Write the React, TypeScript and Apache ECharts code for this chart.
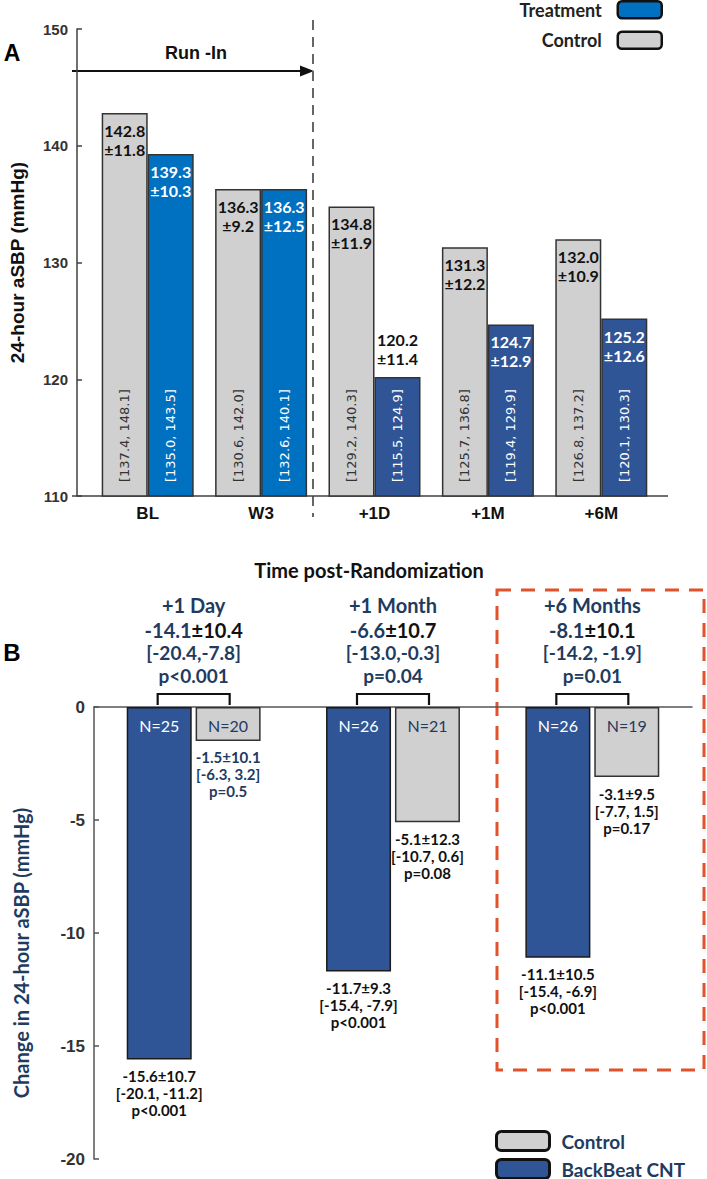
import React, { useEffect, useRef } from "react";
import * as echarts from "echarts";

// ---------- Panel A data ----------
const categoriesA = ["BL", "W3", "+1D", "+1M", "+6M"];
const controlMeanA = [142.8, 136.3, 134.8, 131.3, 132.0];
const controlSdA = [11.8, 9.2, 11.9, 12.2, 10.9];
const controlCiA = ["[137.4, 148.1]", "[130.6, 142.0]", "[129.2, 140.3]", "[125.7, 136.8]", "[126.8, 137.2]"];
const treatMeanA = [139.3, 136.3, 120.2, 124.7, 125.2];
const treatSdA = [10.3, 12.5, 11.4, 12.9, 12.6];
const treatCiA = ["[135.0, 143.5]", "[132.6, 140.1]", "[115.5, 124.9]", "[119.4, 129.9]", "[120.1, 130.3]"];
const runInA = [true, true, false, false, false];
const labelAboveA = [false, false, true, false, false];
const yTicksA = { min: 110, max: 150, interval: 10 };

// ---------- Panel B data ----------
const categoriesB = ["+1 Day", "+1 Month", "+6 Months"];
const cntChange = [-15.6, -11.7, -11.1];
const cntSd = [10.7, 9.3, 10.5];
const cntCi = ["[-20.1, -11.2]", "[-15.4, -7.9]", "[-15.4, -6.9]"];
const cntP = ["p<0.001", "p<0.001", "p<0.001"];
const cntN = [25, 26, 26];
const ctrlChange = [-1.5, -5.1, -3.1];
const ctrlSd = [10.1, 12.3, 9.5];
const ctrlCi = ["[-6.3, 3.2]", "[-10.7, 0.6]", "[-7.7, 1.5]"];
const ctrlP = ["p=0.5", "p=0.08", "p=0.17"];
const ctrlN = [20, 21, 19];
const ctrlNavyStats = [true, false, false];
const diffMean = [-14.1, -6.6, -8.1];
const diffSd = [10.4, 10.7, 10.1];
const diffCi = ["[-20.4,-7.8]", "[-13.0,-0.3]", "[-14.2, -1.9]"];
const diffP = ["p<0.001", "p=0.04", "p=0.01"];
const yTicksB = { min: -20, max: 0, interval: 5 };

const NAVY = "#1F3B60";
const GRAY = "#D0D0D0";
const BLUE_A = "#0070C0";
const BLUE_B = "#2F5597";
const ARIAL = "Liberation Sans";
const CAL = "Lato";

export default function App() {
  const ref = useRef<HTMLDivElement>(null);
  useEffect(() => {
    document.body.style.margin = "0";
    const chart = echarts.init(ref.current!, null, { renderer: "svg" });

    const hdr = (text: string, x: number, y: number, fill: string, size: number) => ({
      type: "text",
      style: {
        text, x, y, align: "center", verticalAlign: "middle", fill,
        fontFamily: CAL, fontWeight: "bold", fontSize: size, lineHeight: 18,
      },
    });

    const option: any = {
      animation: false,
      backgroundColor: "#fff",
      legend: [
        {
          data: ["Treatment", "Control"],
          orient: "vertical",
          right: 44,
          top: 0,
          padding: 0,
          align: "right",
          icon: "roundRect",
          itemWidth: 44,
          itemHeight: 17,
          itemGap: 11,
          selectedMode: false,
          itemStyle: { borderColor: "#111", borderWidth: 2.5 },
          textStyle: { fontFamily: CAL, fontWeight: "bold", fontSize: 18, color: "#222", padding: [0, 11, 0, 0] },
        },
        {
          data: ["Control", "BackBeat CNT"],
          orient: "vertical",
          left: 495,
          top: 1130,
          height: 60,
          padding: 0,
          align: "left",
          icon: "roundRect",
          itemWidth: 53,
          itemHeight: 19,
          itemGap: 6,
          selectedMode: false,
          itemStyle: { borderColor: "#111", borderWidth: 3 },
          textStyle: { fontFamily: CAL, fontWeight: "bold", fontSize: 19, lineHeight: 19, color: NAVY, padding: [0, 0, 0, 7] },
        },
      ],
      grid: [
        { left: 86, right: 49, top: 29, bottom: 683 },
        { left: 94, right: 15, top: 707, bottom: 20 },
      ],
      xAxis: [
        {
          gridIndex: 0, type: "category", data: categoriesA,
          axisLine: { show: false }, axisTick: { show: false },
          axisLabel: { fontFamily: ARIAL, fontWeight: "bold", fontSize: 17, color: "#111", margin: 9 },
        },
        { gridIndex: 0, type: "category", data: categoriesA, show: false },
        {
          gridIndex: 1, type: "category", data: categoriesB, position: "top",
          axisLine: { show: true, onZero: false, lineStyle: { color: "#555", width: 1.5 } },
          axisTick: { show: false }, axisLabel: { show: false },
        },
        { gridIndex: 1, type: "category", data: categoriesB, show: false },
      ],
      yAxis: [
        {
          gridIndex: 0, type: "value", ...yTicksA, offset: 14,
          axisLine: { show: true, lineStyle: { color: "#404040", width: 1.5 } },
          axisTick: { show: true, inside: true, length: 5, lineStyle: { color: "#404040", width: 1.5 } },
          axisLabel: { fontFamily: ARIAL, fontWeight: "bold", fontSize: 15, color: "#333", margin: 9 },
          splitLine: { show: false },
          name: "24-hour aSBP (mmHg)", nameLocation: "middle", nameGap: 50, nameRotate: 90,
          nameTextStyle: { fontFamily: ARIAL, fontWeight: "bold", fontSize: 19, color: "#111" },
        },
        {
          gridIndex: 1, type: "value", ...yTicksB,
          axisLine: { show: true, lineStyle: { color: "#555", width: 1.5 } },
          axisTick: { show: true, inside: true, length: 5, lineStyle: { color: "#555", width: 1.5 } },
          axisLabel: { fontFamily: ARIAL, fontWeight: "bold", fontSize: 17, color: "#333", margin: 9 },
          splitLine: { show: false },
        },
      ],
      series: [
        {
          type: "bar", name: "Control", xAxisIndex: 0, yAxisIndex: 0,
          data: controlMeanA, barWidth: 46, barGap: "0%",
          itemStyle: { color: GRAY, borderColor: "#333", borderWidth: 1.5 },
          label: {
            show: true, position: "insideTop", distance: 8,
            formatter: (p: any) => `${controlMeanA[p.dataIndex].toFixed(1)}\n±${controlSdA[p.dataIndex].toFixed(1)}`,
            fontFamily: CAL, fontWeight: "bold", fontSize: 16, lineHeight: 19, color: "#111",
          },
        },
        {
          type: "bar", name: "Treatment", xAxisIndex: 0, yAxisIndex: 0,
          barWidth: 46, barGap: "0%",
          itemStyle: { color: BLUE_A, borderColor: "#333", borderWidth: 1.5 },
          data: treatMeanA.map((v, i) => ({
            value: v,
            itemStyle: { color: runInA[i] ? BLUE_A : BLUE_B },
            label: labelAboveA[i] ? { position: "top", color: "#111", distance: 9 } : {},
          })),
          label: {
            show: true, position: "insideTop", distance: 8,
            formatter: (p: any) => `${treatMeanA[p.dataIndex].toFixed(1)}\n±${treatSdA[p.dataIndex].toFixed(1)}`,
            fontFamily: CAL, fontWeight: "bold", fontSize: 16, lineHeight: 19, color: "#fff",
          },
        },
        {
          type: "bar", name: "ControlCI", xAxisIndex: 1, yAxisIndex: 0, silent: true,
          data: controlMeanA, barWidth: 46, barGap: "0%",
          itemStyle: { color: "rgba(0,0,0,0)" },
          label: {
            show: true, position: "insideBottom", distance: 14, rotate: 90, align: "left", verticalAlign: "middle",
            formatter: (p: any) => controlCiA[p.dataIndex],
            fontFamily: "DejaVu Sans", fontSize: 13, color: "#333",
          },
        },
        {
          type: "bar", name: "TreatmentCI", xAxisIndex: 1, yAxisIndex: 0, silent: true,
          data: treatMeanA, barWidth: 46, barGap: "0%",
          itemStyle: { color: "rgba(0,0,0,0)" },
          label: {
            show: true, position: "insideBottom", distance: 14, rotate: 90, align: "left", verticalAlign: "middle",
            formatter: (p: any) => treatCiA[p.dataIndex],
            fontFamily: "DejaVu Sans", fontSize: 13, color: "#fff",
          },
        },
        // Panel B
        {
          type: "bar", name: "BackBeat CNT", xAxisIndex: 2, yAxisIndex: 1,
          data: cntChange, barWidth: 65, barGap: "6%",
          itemStyle: { color: BLUE_B, borderColor: "#1a1a1a", borderWidth: 1.5 },
          label: {
            show: true, position: "insideTop", distance: 10,
            formatter: (p: any) => `N=${cntN[p.dataIndex]}`,
            fontFamily: CAL, fontSize: 16, color: "#fff",
          },
        },
        {
          type: "bar", name: "Control", xAxisIndex: 2, yAxisIndex: 1,
          data: ctrlChange, barWidth: 65, barGap: "6%",
          itemStyle: { color: GRAY, borderColor: "#333", borderWidth: 1.5 },
          label: {
            show: true, position: "insideTop", distance: 10,
            formatter: (p: any) => `N=${ctrlN[p.dataIndex]}`,
            fontFamily: CAL, fontSize: 16, color: NAVY,
          },
        },
        {
          type: "bar", name: "CNTStats", xAxisIndex: 3, yAxisIndex: 1, silent: true,
          data: cntChange, barWidth: 65, barGap: "6%",
          itemStyle: { color: "rgba(0,0,0,0)" },
          label: {
            show: true, position: "bottom", distance: 8,
            formatter: (p: any) =>
              `${cntChange[p.dataIndex].toFixed(1)}±${cntSd[p.dataIndex].toFixed(1)}\n${cntCi[p.dataIndex]}\n${cntP[p.dataIndex]}`,
            fontFamily: CAL, fontWeight: "bold", fontSize: 15, lineHeight: 17, color: "#111",
          },
        },
        {
          type: "bar", name: "CtrlStats", xAxisIndex: 3, yAxisIndex: 1, silent: true,
          barWidth: 65, barGap: "6%",
          data: ctrlChange.map((v, i) => ({ value: v, label: { color: ctrlNavyStats[i] ? NAVY : "#111" } })),
          itemStyle: { color: "rgba(0,0,0,0)" },
          label: {
            show: true, position: "bottom", distance: 8,
            formatter: (p: any) =>
              `${ctrlChange[p.dataIndex].toFixed(1)}±${ctrlSd[p.dataIndex].toFixed(1)}\n${ctrlCi[p.dataIndex]}\n${ctrlP[p.dataIndex]}`,
            fontFamily: CAL, fontWeight: "bold", fontSize: 15, lineHeight: 17, color: "#111",
          },
        },
        {
          type: "custom", name: "Comparison", xAxisIndex: 2, yAxisIndex: 1, silent: true, clip: false,
          data: categoriesB.map((_, i) => [i, 0]),
          encode: { x: 0, y: 1 },
          renderItem: (_params: any, api: any) => {
            const i = api.value(0);
            const [cx, cy] = api.coord([i, 0]);
            const half = 36;
            return {
              type: "group",
              children: [
                {
                  type: "polyline",
                  shape: { points: [[cx - half, cy - 2], [cx - half, cy - 13], [cx + half, cy - 13], [cx + half, cy - 2]] },
                  style: { stroke: "#111", lineWidth: 2.2, fill: "none" },
                },
                hdr(categoriesB[i], cx, cy - 102, NAVY, 20),
                {
                  type: "text",
                  style: {
                    text: `{a|${diffMean[i].toFixed(1)}}{b|±${diffSd[i].toFixed(1)}}`,
                    x: cx, y: cy - 77, align: "center", verticalAlign: "middle",
                    fontFamily: CAL, fontWeight: "bold", fontSize: 20, lineHeight: 18,
                    rich: {
                      a: { fill: NAVY, fontFamily: CAL, fontWeight: "bold", fontSize: 20, lineHeight: 18 },
                      b: { fill: "#111", fontFamily: CAL, fontWeight: "bold", fontSize: 20, lineHeight: 18 },
                    },
                  },
                },
                hdr(diffCi[i], cx, cy - 55, NAVY, 19),
                hdr(diffP[i], cx, cy - 32, NAVY, 19),
              ],
            };
          },
        },
      ],
      graphic: [
        { type: "text", x: 12, y: 53, style: { text: "A", fontFamily: ARIAL, fontWeight: "bold", fontSize: 23, fill: "#000", align: "center", verticalAlign: "middle" } },
        { type: "text", x: 12, y: 652, style: { text: "B", fontFamily: ARIAL, fontWeight: "bold", fontSize: 24, fill: "#000", align: "center", verticalAlign: "middle" } },
        { type: "text", x: 196, y: 53, style: { text: "Run -In", fontFamily: ARIAL, fontWeight: "bold", fontSize: 18, fill: "#111", align: "center", verticalAlign: "middle" } },
        { type: "line", shape: { x1: 72, y1: 71, x2: 306, y2: 71 }, style: { stroke: "#111", lineWidth: 2 } },
        { type: "polygon", shape: { points: [[300, 65.5], [314, 71], [300, 76.5]] }, style: { fill: "#111" } },
        { type: "line", shape: { x1: 313, y1: 20, x2: 313, y2: 517 }, style: { stroke: "#666", lineWidth: 2, lineDash: [10, 7] } },
        { type: "line", shape: { x1: 72, y1: 496, x2: 668, y2: 496 }, style: { stroke: "#404040", lineWidth: 1.5 } },
        { type: "text", x: 369, y: 570, style: { text: "Time post-Randomization", fontFamily: CAL, fontWeight: "bold", fontSize: 20, fill: "#111", align: "center", verticalAlign: "middle" } },
        {
          type: "text", x: 21, y: 953, rotation: Math.PI / 2,
          style: { text: "Change in 24-hour aSBP (mmHg)", fontFamily: CAL, fontWeight: "bold", fontSize: 20, fill: NAVY, align: "center", verticalAlign: "middle" },
        },
        {
          type: "rect", shape: { x: 497, y: 590, width: 207, height: 480 },
          style: { fill: "none", stroke: "#E2532D", lineWidth: 3, lineDash: [14, 10] },
        },
      ],
    };
    chart.setOption(option);
    return () => chart.dispose();
  }, []);
  return <div ref={ref} style={{ width: 707, height: 1179 }} />;
}
